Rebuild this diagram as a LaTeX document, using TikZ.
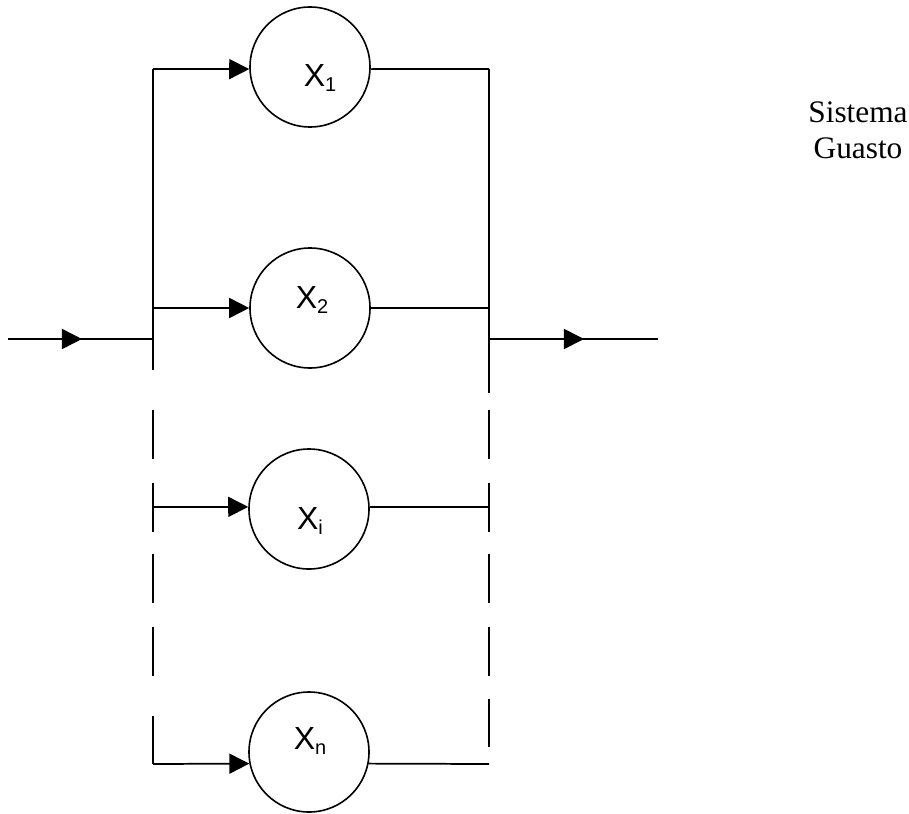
\documentclass[tikz,border=0pt]{standalone}
\usepackage{fontspec}
\setmainfont{Liberation Serif}
\newfontfamily\labelfont{Liberation Sans}
\usetikzlibrary{arrows.meta,decorations.markings}

\tikzset{
  wire/.style={line width=1.3pt, line cap=butt},
  feed/.style={wire, -{Triangle[length=15pt,width=15pt]}},
  midarrow/.style={wire, postaction={decorate},
    decoration={markings, mark=at position #1 with {\arrow{Triangle[length=15pt,width=15pt]}}}},
  block/.style={circle, draw, line width=1.2pt, minimum size=90pt, inner sep=0pt},
  blocklabel/.style={font=\labelfont\fontsize{24}{24}\selectfont, inner sep=0pt},
  caption/.style={font=\fontsize{23.5}{27}\selectfont, align=center, inner sep=0pt}
}
\newcommand{\subidx}[1]{{\fontsize{15}{15}\selectfont\raisebox{-4pt}{#1}}}

\begin{document}
\begin{tikzpicture}[x=0.75pt,y=-0.75pt]
  \useasboundingbox (0,0) rectangle (909,813);

  % components in parallel
  \node[block] (c1) at (310,67) {};
  \node[block] (c2) at (310,308) {};
  \node[block] (ci) at (309,509) {};
  \node[block] (cn) at (309,752) {};

  \node[blocklabel] (t1) at (320,78) {X\subidx{1}};
  \node[blocklabel] (t2) at (312,300) {X\subidx{2}};
  \node[blocklabel] (ti) at (310,521) {X\subidx{i}};
  \node[blocklabel] (tn) at (310,741) {X\subidx{n}};

  % input and output buses
  \coordinate (L1) at (153,69);
  \coordinate (L2) at (153,308);
  \coordinate (Lin) at (153,339);
  \coordinate (Li) at (153,507);
  \coordinate (Ln) at (153,764);
  \coordinate (R1) at (489,69);
  \coordinate (R2) at (489,308);
  \coordinate (Rout) at (489,339);
  \coordinate (Ri) at (489,507);
  \coordinate (Rn) at (489,764);
  \coordinate (in) at (8,339);
  \coordinate (out) at (658,339);

  % solid parts of the buses
  \draw[wire] (L1) -- (153,370);
  \draw[wire] (R1) -- (489,393);
  % broken parts of the buses
  \foreach \a/\b in {410/459, 483/532, 554/603, 627/676} {
    \draw[wire] (153,\a) -- (153,\b);
    \draw[wire] (489,\a) -- (489,\b);
  }
  \draw[wire] (153,716) -- (Ln);
  \draw[wire] (489,699) -- (489,747);

  % system input and output
  \draw[midarrow=0.51] (in) -- (Lin);
  \draw[midarrow=0.562] (Rout) -- (out);

  % branches into each component
  \draw[feed] (L1) -- (c1.182);
  \draw[feed] (L2) -- (c2.west);
  \draw[feed] (Li) -- (ci.178);
  \draw[feed] (Ln) -- (cn.191.5);

  % branches out of each component
  \draw[wire] (c1.-2) -- (R1);
  \draw[wire] (c2.east) -- (R2);
  \draw[wire] (ci.2) -- (Ri);
  \draw[wire] (cn.-11.5) -- (Rn);

  \node[caption] (cap) at (858,130) {Sistema\\Guasto};
\end{tikzpicture}
\end{document}
